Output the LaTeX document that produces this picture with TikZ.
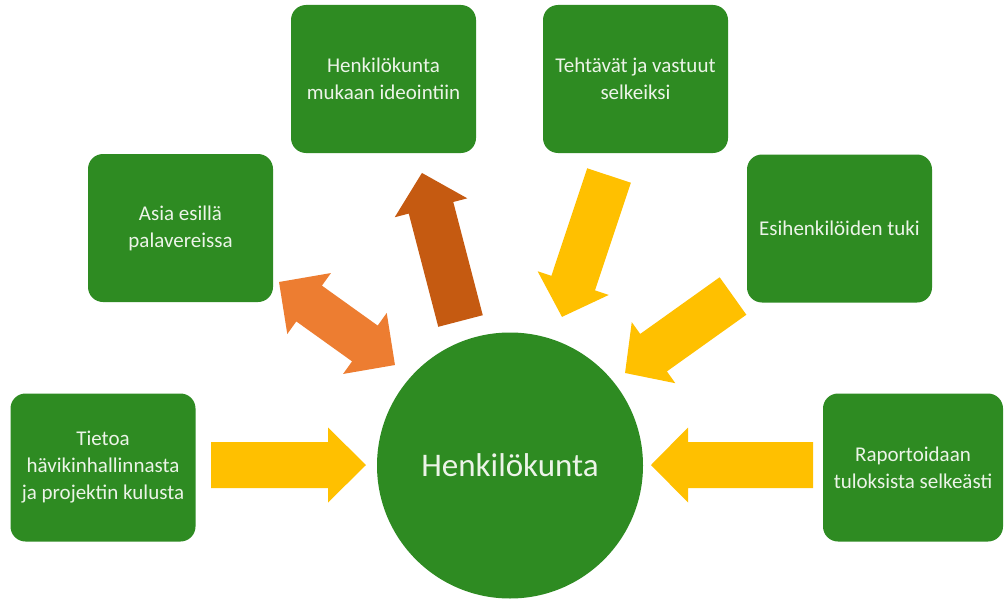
\documentclass[tikz,border=0pt]{standalone}
\usepackage{fontspec}
\setmainfont{Carlito}
\definecolor{boxgreen}{RGB}{46,139,34}
\definecolor{txt}{RGB}{236,244,232}
\definecolor{ylw}{RGB}{255,192,0}
\definecolor{org}{RGB}{237,125,49}
\definecolor{dorg}{RGB}{197,90,17}
% #1 style, #2 tail centre, #3 angle, #4 length, #5 head length
\newcommand\blkarrow[5]{\fill[#1,shift={#2},rotate=#3] (0,-23) -- ({#4-#5},-23) -- ({#4-#5},-37.5) -- (#4,0) -- ({#4-#5},37.5) -- ({#4-#5},23) -- (0,23) -- cycle;}
\tikzset{
  gbox/.style={rectangle, rounded corners=15pt, fill=boxgreen, text=txt,
    minimum width=185pt, minimum height=148pt, align=center, inner sep=4pt,
    font=\fontsize{21}{27}\selectfont},
  hub/.style={circle, fill=boxgreen, text=txt, minimum size=266pt, inner sep=0pt,
    font=\fontsize{33}{40}\selectfont},
  yarrow/.style={fill=ylw},
  oarrow/.style={fill=org},
  darrow/.style={fill=dorg}
}
\begin{document}
\begin{tikzpicture}[x=1pt,y=-1pt]
\useasboundingbox (0,0) rectangle (1004,602);
\fill[white] (0,0) rectangle (1004,602);

\node[hub] (hub) at (510,465.5) {Henkilökunta};

\node[gbox] (tieto) at (103,467.5) {Tietoa\\hävikinhallinnasta\\ja projektin kulusta};
\node[gbox] (asia) at (180.5,228) {Asia esillä\\palavereissa};
\node[gbox] (ideo) at (383.5,79) {Henkilökunta\\mukaan ideointiin};
\node[gbox] (teht) at (635.5,79) {Tehtävät ja vastuut\\selkeiksi};
\node[gbox] (esih) at (839.5,228.5) {Esihenkilöiden tuki};
\node[gbox, minimum width=180pt] (rap) at (913,467.5) {Raportoidaan\\tuloksista selkeästi};

% block arrows
\blkarrow{yarrow}{(211,465)}{0}{155}{38}
\blkarrow{yarrow}{(813,465)}{180}{162}{37}
\blkarrow{darrow}{(460.5,321)}{104.6}{153}{36}
\blkarrow{yarrow}{(609,175.5)}{-108.4}{149}{35.6}
\blkarrow{yarrow}{(733,296)}{-144.5}{132.6}{35}
\fill[oarrow, shift={(337,323.5)}, rotate=-35.6]
  (-71.3,0) -- (-34.3,37.5) -- (-34.3,22) -- (34.3,22) -- (34.3,37.5) -- (71.3,0)
  -- (34.3,-37.5) -- (34.3,-22) -- (-34.3,-22) -- (-34.3,-37.5) -- cycle;
\end{tikzpicture}
\end{document}
